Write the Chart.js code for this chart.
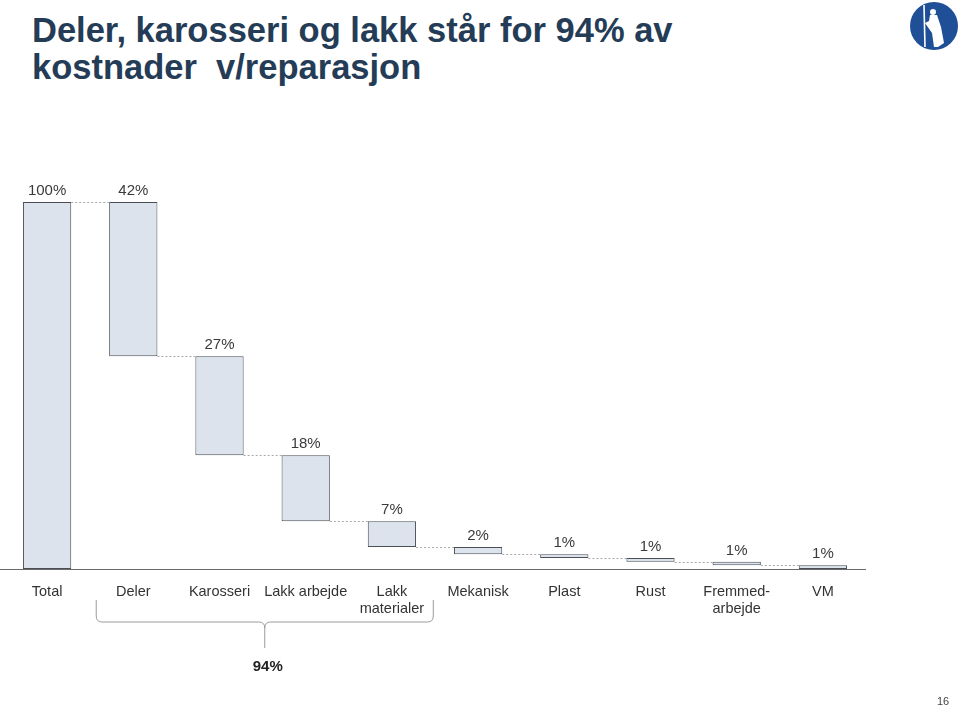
<!DOCTYPE html>
<html lang="no">
<head>
<meta charset="utf-8">
<title>Kostnader v/reparasjon</title>
<script src="https://cdn.jsdelivr.net/npm/chart.js@4.4.1/dist/chart.umd.min.js"></script>
<style>
  html, body { margin: 0; padding: 0; background: #fff; }
  body { width: 960px; height: 709px; position: relative; overflow: hidden; font-family: "Liberation Sans", Arial, sans-serif; }
  h1 { position: absolute; left: 32px; top: 12px; margin: 0; font-size: 34.5px; line-height: 37px; font-weight: bold; color: #253c57; white-space: nowrap; }
  #chartWrap { position: absolute; left: 0; top: 0; width: 960px; height: 709px; }
  #logo { position: absolute; left: 908px; top: 1px; }
  #pageNo { position: absolute; left: 937px; top: 695px; font-size: 11px; color: #444; }
</style>
</head>
<body>
<h1>Deler, karosseri og lakk står for 94% av<br>kostnader&nbsp; v/reparasjon</h1>
<canvas id="logo" width="52" height="52"></canvas>
<div id="chartWrap"><canvas id="chartWaterfall"></canvas></div>
<div id="pageNo">16</div>

<script>
/* Data lest av bildet */
const CATEGORIES = ["Total", "Deler", "Karosseri", "Lakk arbejde", ["Lakk", "materialer"],
  "Mekanisk", "Plast", "Rust", ["Fremmed-", "arbejde"], "VM"];
const SHARES = [100, 42, 27, 18, 7, 2, 1, 1, 1, 1];
const VALUE_LABELS = ["100%", "42%", "27%", "18%", "7%", "2%", "1%", "1%", "1%", "1%"];
const BRACE_FROM = 1;   // Deler
const BRACE_TO = 4;     // Lakk materialer
const BRACE_LABEL = "94%";

const FILL = "#dce3ed";
const EDGE = "#4a4f55";
const TEXT = "#3a3a3a";
const FONT = "'Liberation Sans', Arial, sans-serif";

// flytende søyler: total fra 0, resten faller ned fra det som er igjen
const ranges = [];
let left = SHARES[0];
ranges.push([0, SHARES[0]]);
for (let i = 1; i < SHARES.length; i++) {
  ranges.push([left - SHARES[i], left]);
  left -= SHARES[i];
}

const waterfallExtras = {
  id: "waterfallExtras",
  afterDatasetsDraw(chart) {
    const { ctx, scales: { x, y } } = chart;
    const bars = chart.getDatasetMeta(0).data;
    ctx.save();

    // stiplede forbindelseslinjer
    ctx.strokeStyle = "#a8a8a8";
    ctx.lineWidth = 1;
    ctx.setLineDash([2, 2]);
    for (let i = 0; i < bars.length - 1; i++) {
      const a = bars[i], b = bars[i + 1];
      const yy = Math.round(y.getPixelForValue(ranges[i + 1][1])) + 0.5;
      ctx.beginPath();
      ctx.moveTo(a.x + a.width / 2, yy);
      ctx.lineTo(b.x - b.width / 2, yy);
      ctx.stroke();
    }
    ctx.setLineDash([]);

    // verdier over søylene
    ctx.fillStyle = TEXT;
    ctx.font = "15px " + FONT;
    ctx.textAlign = "center";
    ctx.textBaseline = "alphabetic";
    bars.forEach((bar, i) => {
      ctx.fillText(VALUE_LABELS[i], bar.x, Math.min(bar.y, bar.base) - 7);
    });

    // klamme under Deler..Lakk materialer
    const step = x.getPixelForValue(1) - x.getPixelForValue(0);
    const x0 = x.getPixelForValue(BRACE_FROM) - step * 0.43;
    const x1 = x.getPixelForValue(BRACE_TO) + step * 0.48;
    const mid = (x0 + x1) / 2;
    const yTop = 600, yMid = 622, yTip = 648, r = 6;
    ctx.strokeStyle = "#9a9a9a";
    ctx.lineWidth = 1;
    ctx.beginPath();
    ctx.moveTo(x0, yTop);
    ctx.lineTo(x0, yMid - r);
    ctx.quadraticCurveTo(x0, yMid, x0 + r, yMid);
    ctx.lineTo(mid - r, yMid);
    ctx.quadraticCurveTo(mid, yMid, mid, yMid + r);
    ctx.lineTo(mid, yTip);
    ctx.moveTo(mid, yMid + r);
    ctx.quadraticCurveTo(mid, yMid, mid + r, yMid);
    ctx.lineTo(x1 - r, yMid);
    ctx.quadraticCurveTo(x1, yMid, x1, yMid - r);
    ctx.lineTo(x1, yTop);
    ctx.stroke();

    ctx.fillStyle = "#222";
    ctx.font = "bold 15px " + FONT;
    ctx.fillText(BRACE_LABEL, mid + 3, 671);

    // x-akse linje
    ctx.strokeStyle = "#6b6b6b";
    ctx.beginPath();
    ctx.moveTo(0, Math.round(y.getPixelForValue(0)) + 0.5);
    ctx.lineTo(x.right, Math.round(y.getPixelForValue(0)) + 0.5);
    ctx.stroke();
    ctx.restore();
  }
};

new Chart(document.getElementById("chartWaterfall"), {
  type: "bar",
  data: {
    labels: CATEGORIES,
    datasets: [{
      data: ranges,
      backgroundColor: FILL,
      borderColor: EDGE,
      borderWidth: 1,
      borderSkipped: false,
      categoryPercentage: 1,
      barPercentage: 0.56,
    }],
  },
  options: {
    responsive: true,
    maintainAspectRatio: false,
    animation: false,
    layout: { padding: { top: 202, left: 4, right: 94, bottom: 90 } },
    plugins: { legend: { display: false }, tooltip: { enabled: false } },
    scales: {
      x: {
        grid: { display: false, drawTicks: false },
        border: { display: false },
        ticks: { color: "#333", font: { family: FONT, size: 14.5 }, padding: 14, maxRotation: 0, autoSkip: false },
        afterFit(scale) { scale.height = 50; },
      },
      y: { display: false, min: 0, max: 100 },
    },
  },
  plugins: [waterfallExtras],
});

/* logo: blå sirkel med hvit figur */
(function drawLogo() {
  const c = document.getElementById("logo").getContext("2d");
  c.fillStyle = "#1f4f97";
  c.beginPath();
  c.arc(26, 25, 24, 0, Math.PI * 2);
  c.fill();
  c.fillStyle = "#fff";
  c.strokeStyle = "#fff";
  c.lineWidth = 1.6;
  c.beginPath();
  c.moveTo(16, 4);
  c.lineTo(17, 46);
  c.stroke();
  c.beginPath();
  c.arc(25, 11, 3, 0, Math.PI * 2);
  c.fill();
  c.beginPath();
  c.moveTo(22, 14);
  c.lineTo(29, 14);
  c.lineTo(33, 26);
  c.lineTo(36, 42);
  c.lineTo(30, 46);
  c.lineTo(26, 46);
  c.lineTo(24, 32);
  c.lineTo(17, 22);
  c.lineTo(21, 20);
  c.closePath();
  c.fill();
})();
</script>
</body>
</html>
